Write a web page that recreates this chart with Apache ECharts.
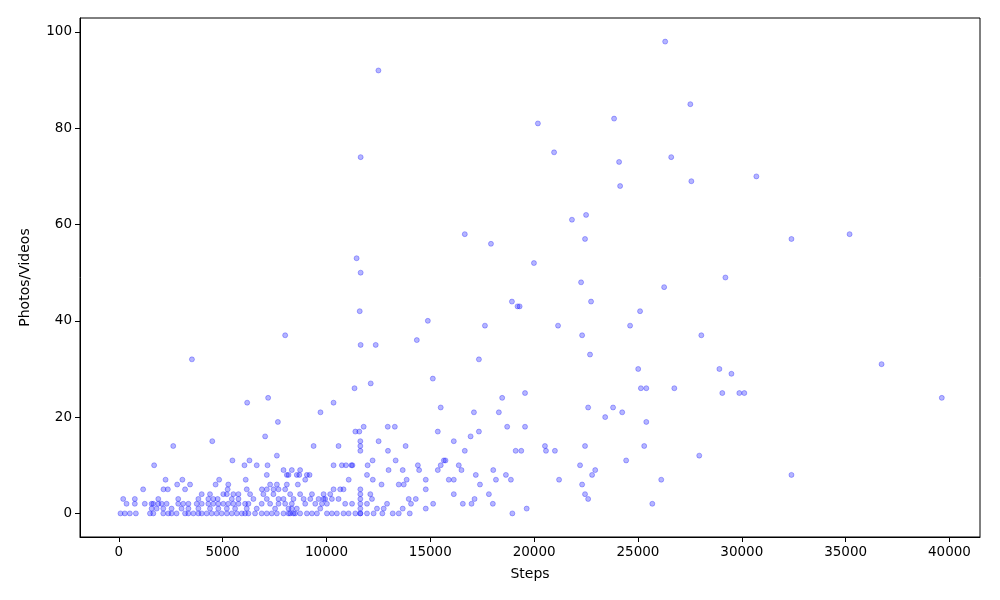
<!DOCTYPE html>
<html>
<head>
<meta charset="utf-8">
<script src="https://cdn.jsdelivr.net/npm/echarts@6/dist/echarts.min.js"></script>
<style>html,body{margin:0;padding:0;background:#fff;}#c{width:1000px;height:600px;}</style>
</head>
<body>
<div id="c"></div>
<script>
// [steps, photos/videos] pairs, grouped by band
const pointsHigh = [[26310,98],[12500,92],[27520,85],[23850,82],[20180,81],[20960,75],[11645,74],[26600,74],[24090,73],[30700,70],[27570,69],[24140,68],[22500,62],[21820,61],[16660,58],[35190,58],[22450,57],[32390,57],[17920,56],[11450,53],[19990,52],[11645,50],[29210,49],[22260,48],[26260,47],[18930,44],[22740,44],[19200,43],[19300,43],[11600,42],[25100,42],[14880,40],[17630,39],[21150,39],[24620,39],[8010,37],[22310,37],[28050,37],[14350,36],[11645,35],[12370,35],[22690,33],[3520,32],[17340,32],[36730,31],[25010,30],[28920,30],[29500,29],[15120,28],[12130,27],[11350,26],[25140,26],[25400,26],[26750,26],[29060,25],[29880,25],[30120,25],[19560,25],[18460,24],[39630,24],[7190,24],[6180,23],[10340,23],[15500,22],[22600,22],[23800,22],[9710,21],[17100,21],[18300,21],[24240,21],[23420,20],[25400,19],[7660,19],[11790,18],[12950,18],[13290,18],[18700,18],[19560,18],[11390,17],[11580,17],[15360,17],[17340,17],[7045,16],[16940,16]];
const pointsMid = [[11630,15],[12510,15],[4500,15],[16130,15],[11630,14],[2620,14],[9380,14],[10580,14],[13810,14],[20520,14],[22450,14],[25300,14],[11630,13],[12960,13],[16660,13],[19110,13],[19380,13],[20570,13],[21000,13],[7610,12],[27950,12],[5470,11],[6290,11],[12220,11],[13330,11],[15650,11],[15730,11],[24430,11],[1700,10],[6050,10],[6640,10],[7160,10],[10340,10],[10740,10],[10940,10],[11200,10],[11250,10],[11980,10],[14400,10],[15500,10],[16370,10],[22210,10],[7930,9],[8330,9],[8730,9],[12990,9],[13670,9],[14460,9],[15360,9],[16500,9],[18030,9],[22940,9],[7125,8],[8090,8],[8570,8],[8690,8],[9055,8],[9185,8],[11950,8],[17190,8],[18640,8],[22790,8],[32390,8],[8170,8]];
const pointsLow = [[2250,7],[3060,7],[4830,7],[6110,7],[8975,7],[11070,7],[12230,7],[13860,7],[14780,7],[15890,7],[16130,7],[18160,7],[18880,7],[21200,7],[26120,7],[2810,6],[3430,6],[4660,6],[5270,6],[7610,6],[8090,6],[8620,6],[7285,6],[12650,6],[13480,6],[13720,6],[17390,6],[22310,6],[1170,5],[2150,5],[2360,5],[3190,5],[5240,5],[6160,5],[6890,5],[7125,5],[7450,5],[7690,5],[8010,5],[10340,5],[10660,5],[10820,5],[11630,5],[14780,5],[3990,4],[4390,4],[5030,4],[5200,4],[5515,4],[5760,4],[6320,4],[6960,4],[7445,4],[8250,4],[8730,4],[9300,4],[9860,4],[10180,4],[11630,4],[12110,4],[16130,4],[17820,4],[22450,4]];
const pointsBase = [[210,3],[770,3],[1900,3],[2860,3],[3830,3],[4310,3],[4550,3],[4760,3],[5440,3],[5760,3],[6480,3],[7125,3],[7690,3],[7930,3],[8410,3],[8900,3],[9220,3],[9620,3],[9860,3],[9940,3],[10260,3],[10580,3],[11630,3],[12190,3],[13960,3],[14300,3],[17130,3],[22600,3],[370,2],[770,2],[1250,2],[1580,2],[1660,2],[1900,2],[2060,2],[2300,2],[2860,2],[3100,2],[3350,2],[3750,2],[3990,2],[4310,2],[4550,2],[4790,2],[5030,2],[5270,2],[5515,2],[5760,2],[6080,2],[6240,2],[6880,2],[7285,2],[7690,2],[8010,2],[8330,2],[8975,2],[9460,2],[9780,2],[10020,2],[10900,2],[11230,2],[11630,2],[11950,2],[12915,2],[14070,2],[15135,2],[16565,2],[16985,2],[18010,2],[25690,2],[1580,1],[1820,1],[2140,1],[2540,1],[3020,1],[3350,1],[3830,1],[4390,1],[4790,1],[5200,1],[5600,1],[6160,1],[6640,1],[7525,1],[8170,1],[8330,1],[8570,1],[9700,1],[11630,1],[12430,1],[12755,1],[13670,1],[14780,1],[19640,1]];
const pointsZero = [[80,0],[290,0],[530,0],[820,0],[1500,0],[1660,0],[2140,0],[2380,0],[2540,0],[2780,0],[3190,0],[3350,0],[3590,0],[3830,0],[3990,0],[4230,0],[4470,0],[4710,0],[4950,0],[5200,0],[5440,0],[5680,0],[5920,0],[6080,0],[6240,0],[6560,0],[6880,0],[7125,0],[7365,0],[7610,0],[7930,0],[8170,0],[8250,0],[8410,0],[8490,0],[8730,0],[9055,0],[9300,0],[9540,0],[10020,0],[10260,0],[10500,0],[10820,0],[11065,0],[11390,0],[11630,0],[11630,0],[11950,0],[12270,0],[12690,0],[13190,0],[13480,0],[14010,0],[18950,0]];

const xTicks = [0,5000,10000,15000,20000,25000,30000,35000,40000];
const yTicks = [0,20,40,60,80,100];
const xName = 'Steps';
const yName = 'Photos/Videos';

const allPoints = [].concat(pointsHigh, pointsMid, pointsLow, pointsBase, pointsZero);

const chart = echarts.init(document.getElementById('c'), null, {renderer:'canvas'});
const font = 'DejaVu Sans';
chart.setOption({
  animation: false,
  backgroundColor: '#fff',
  grid: {left: 80, right: 20, top: 18, bottom: 63, show: true, borderColor: '#000', borderWidth: 1, backgroundColor: 'transparent'},
  xAxis: {
    type: 'value', min: -1870, max: 41470,
    name: xName, nameLocation: 'middle', nameGap: 30,
    nameTextStyle: {color: '#000', fontSize: 14, fontFamily: font},
    splitLine: {show: false},
    axisLine: {show: true, onZero: false, lineStyle: {color: '#000', width: 1}},
    axisTick: {show: true, length: 5, lineStyle: {color: '#000'}, customValues: xTicks},
    axisLabel: {color: '#000', fontSize: 13.5, fontFamily: font, margin: 8, customValues: xTicks, formatter: v => String(v)}
  },
  yAxis: {
    type: 'value', min: -4.9, max: 102.9,
    name: yName, nameLocation: 'middle', nameGap: 48, nameRotate: 90,
    nameTextStyle: {color: '#000', fontSize: 14, fontFamily: font},
    splitLine: {show: false},
    axisLine: {show: true, onZero: false, lineStyle: {color: '#000', width: 1}},
    axisTick: {show: true, length: 5, lineStyle: {color: '#000'}, customValues: yTicks},
    axisLabel: {color: '#000', fontSize: 13.5, fontFamily: font, margin: 8, customValues: yTicks, formatter: v => String(v)}
  },
  series: [{
    type: 'scatter',
    data: allPoints,
    symbol: 'circle',
    symbolSize: 5,
    itemStyle: {color: 'rgba(0,0,255,0.36)', borderColor: 'rgba(0,0,255,0.36)', borderWidth: 1},
    emphasis: {disabled: true}
  }]
});
</script>
</body>
</html>
